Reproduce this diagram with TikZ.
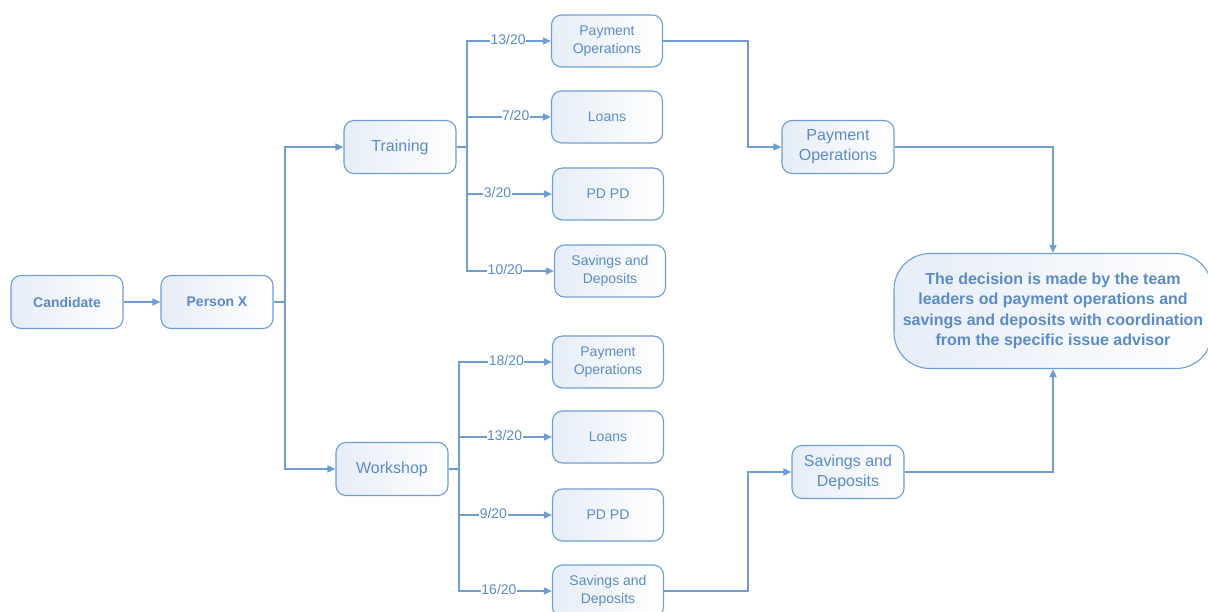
\documentclass[tikz,border=0pt]{standalone}
\usepackage{fontspec}
\setmainfont{Liberation Sans}
\usetikzlibrary{arrows.meta}
\definecolor{edgec}{HTML}{6F9DD3}
\definecolor{txtc}{HTML}{5B8BC7}
\definecolor{fillb}{HTML}{E6EDF7}
\begin{document}
\begin{tikzpicture}[x=1pt,y=-1pt,
  box/.style={draw=edgec, line width=1.1pt, rounded corners=10pt, left color=fillb, right color=white,
    text=txtc, font=\fontsize{14}{17.5}\selectfont, align=center, minimum width=111pt, minimum height=52pt, inner sep=2pt},
  boldbox/.style={box, font=\fontsize{14}{17}\selectfont\bfseries, minimum width=112pt, minimum height=53pt},
  bigbox/.style={box, font=\fontsize{16}{20}\selectfont, minimum width=112pt, minimum height=53pt},
  decbox/.style={box, rounded corners=36pt, font=\fontsize{16}{20.5}\selectfont\bfseries, minimum width=318pt, minimum height=115pt},
  conn/.style={draw=edgec, line width=1.6pt},
  arr/.style={conn, -{Triangle[length=8pt,width=7pt]}},
  lbl/.style={fill=white, text=txtc, font=\fontsize{14}{16}\selectfont, inner sep=0.5pt, yshift=1.5pt}
]
\useasboundingbox (0,0) rectangle (1208,612);

% main nodes
\node[boldbox] (cand) at (67,302) {Candidate};
\node[boldbox] (px) at (217,302) {Person X};
\node[bigbox] (tr) at (400,147) {Training};
\node[bigbox] (ws) at (392,469) {Workshop};

% training children
\node[box] (t1) at (607,41) {Payment\\Operations};
\node[box] (t2) at (607,117) {Loans};
\node[box] (t3) at (608,194) {PD PD};
\node[box] (t4) at (610,271) {Savings and\\Deposits};

% workshop children
\node[box] (w1) at (608,362) {Payment\\Operations};
\node[box] (w2) at (608,437) {Loans};
\node[box] (w3) at (608,515) {PD PD};
\node[box] (w4) at (608,591) {Savings and\\Deposits};

% middle nodes
\node[bigbox] (mp) at (838,147) {Payment\\Operations};
\node[bigbox] (ms) at (848,472) {Savings and\\Deposits};

% decision
\node[decbox] (dec) at (1053,311) {The decision is made by the team\\leaders od payment operations and\\savings and deposits with coordination\\from the specific issue advisor};

% helper coordinates
\coordinate (pxb) at (285,302);
\coordinate (trb) at (467,147);
\coordinate (wsb) at (459,469);
\coordinate (k1) at (748,41);
\coordinate (k2) at (748,591);

% connectors
\draw[arr] (cand.east) -- (px.west);
\draw[conn] (px.east) -- (pxb);
\draw[arr] (pxb) |- (tr.west);
\draw[arr] (pxb) |- (ws.west);

\draw[conn] (tr.east) -- (trb);
\draw[arr] (trb) |- node[lbl, pos=0.745] {13/20} (t1.west);
\draw[arr] (trb) |- node[lbl, pos=0.79] {7/20} (t2.west);
\draw[arr] (trb) |- node[lbl, pos=0.68] {3/20} (t3.west);
\draw[arr] (trb) |- node[lbl, pos=0.72] {10/20} (t4.west);

\draw[conn] (ws.east) -- (wsb);
\draw[arr] (wsb) |- node[lbl, pos=0.755] {18/20} (w1.west);
\draw[arr] (wsb) |- node[lbl, pos=0.745] {13/20} (w2.west);
\draw[arr] (wsb) |- node[lbl, pos=0.685] {9/20} (w3.west);
\draw[arr] (wsb) |- node[lbl, pos=0.715] {16/20} (w4.west);

\draw[arr] (t1.east) -- (k1) |- (mp.west);
\draw[arr] (w4.east) -- (k2) |- (ms.west);
\draw[arr] (mp.east) -| (dec.north);
\draw[arr] (ms.east) -| (dec.south);
\end{tikzpicture}
\end{document}
